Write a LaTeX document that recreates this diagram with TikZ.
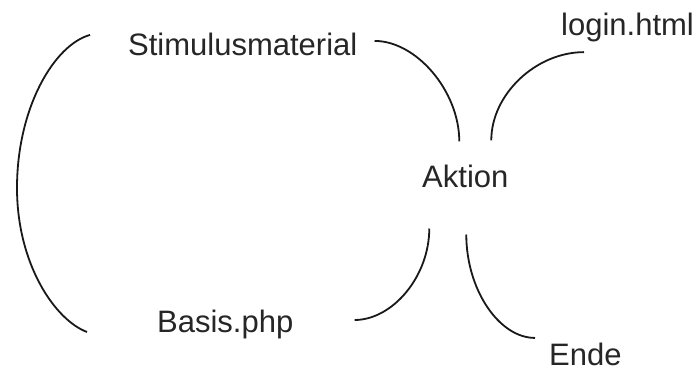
\documentclass[tikz,border=0pt]{standalone}
\usepackage{fontspec}
\setmainfont{Liberation Sans}
\usetikzlibrary{calc}
\begin{document}
\begin{tikzpicture}[x=1pt,y=-1pt,
  lbl/.style={inner sep=0pt,anchor=base west,font=\fontsize{31}{36}\selectfont,text=black!85},
  link/.style={line width=1.8pt,black!90}]
\fill[white] (0,0) rectangle (696,370);
\useasboundingbox (0,0) rectangle (696,370);
\node[lbl] (stim) at (128,55) {Stimulusmaterial};
\node[lbl] (login) at (561,35) {login.html};
\node[lbl] (akt) at (422,187) {Aktion};
\node[lbl] (basis) at (157,332) {Basis.php};
\node[lbl] (ende) at (549,365) {Ende};
\coordinate (bmid) at (17,188);
% Stimulusmaterial -> Aktion
\draw[link] ($(stim.east)+(17,-3)$) .. controls +(42,0) and +(0,-50) .. ($(akt.north)+(-6,-23)$);
% login.html -> Aktion
\draw[link] ($(login.south west)+(23,10.5)$) .. controls +(-48,0) and +(0,-46) .. ($(akt.north)+(26,-24)$);
% Aktion -> Basis.php
\draw[link] ($(akt.south)+(-36,41)$) .. controls +(0,48) and +(38,0) .. ($(basis.east)+(61,-4)$);
% Aktion -> Ende
\draw[link] ($(akt.south)+(1,47)$) .. controls +(0,55) and +(-36,0) .. ($(ende.west)+(-14,-16)$);
% Basis.php -- Stimulusmaterial bracket
\draw[link] ($(stim.west)+(-38,-9)$) .. controls +(-36,10) and +(0,-80) .. (bmid)
  .. controls +(0,76) and +(-32,-12) .. ($(basis.west)+(-70,8)$);
\end{tikzpicture}
\end{document}
